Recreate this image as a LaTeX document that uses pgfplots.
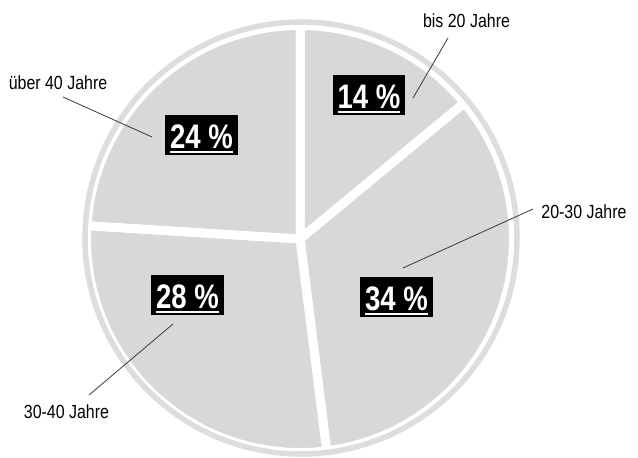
\documentclass[border=0pt]{standalone}
\usepackage{pgfplots}
\pgfplotsset{compat=1.18}
\usepackage{fontspec}
\setmainfont{Liberation Sans}[FakeStretch=0.84]
\newfontfamily\pctfont{Liberation Sans}[FakeStretch=0.81]
\definecolor{slice}{HTML}{D7D8DA}
\definecolor{ring}{HTML}{DCDDDE}
\definecolor{leader}{HTML}{3A3A3A}
% wedge: #1 = cumulative start share (%), #2 = share (%)
\newcommand\piewedge[2]{%
  \fill[slice] (axis cs:300,219) -- ++({90-3.6*#1}:213.5bp)
    arc[start angle={90-3.6*#1}, end angle={90-3.6*(#1+#2)}, radius=213.5bp] -- cycle;
  \draw[white, line width=9bp, line join=round] (axis cs:300,219) -- ++({90-3.6*#1}:213.5bp)
    arc[start angle={90-3.6*#1}, end angle={90-3.6*(#1+#2)}, radius=213.5bp] -- cycle;}
\newcommand\ul[1]{\vtop{\hbox{#1}\kern2.3bp\hrule height 2bp}}
\tikzset{pct/.style={fill=black, text=white, font=\pctfont\bfseries\fontsize{34bp}{38bp}\selectfont,
  inner xsep=5bp, inner ysep=0pt, text height=33bp, text depth=7bp},
  lab/.style={anchor=base, font=\fontsize{19bp}{22bp}\selectfont, text=black, inner sep=0pt}}
\begin{document}
\begin{tikzpicture}
\useasboundingbox (0,0) rectangle (638bp,458bp);
\begin{axis}[at={(0,0)}, anchor=origin, x=1bp, y=1bp,
  xmin=0, xmax=638, ymin=0, ymax=458, hide axis, clip=false]
% shares: bis 20 = 14, 20-30 = 34, 30-40 = 28, ueber 40 = 24
\piewedge{0}{14}
\piewedge{14}{34}
\piewedge{48}{28}
\piewedge{76}{24}
\draw[ring, line width=5.5bp] (axis cs:301,220) circle[radius=216bp];
% leader lines
\draw[leader, line width=0.8bp] (axis cs:413,360) -- (axis cs:448,420);
\draw[leader, line width=0.8bp] (axis cs:63,361) -- (axis cs:152,321);
\draw[leader, line width=0.8bp] (axis cs:403,190) -- (axis cs:533,249);
\draw[leader, line width=0.8bp] (axis cs:173,134) -- (axis cs:89,63);
% labels
\node[lab] at (axis cs:466.5,430) {bis 20 Jahre};
\node[lab] at (axis cs:58,369) {über 40 Jahre};
\node[lab] at (axis cs:584,240) {20-30 Jahre};
\node[lab] at (axis cs:66.5,40) {30-40 Jahre};
% percentage boxes
\node[pct] at (axis cs:369,363) {\ul{14 \%}};
\node[pct] at (axis cs:201.5,323) {\ul{24 \%}};
\node[pct] at (axis cs:187.5,163) {\ul{28 \%}};
\node[pct] at (axis cs:396.5,161) {\ul{34 \%}};
\end{axis}
\end{tikzpicture}
\end{document}
